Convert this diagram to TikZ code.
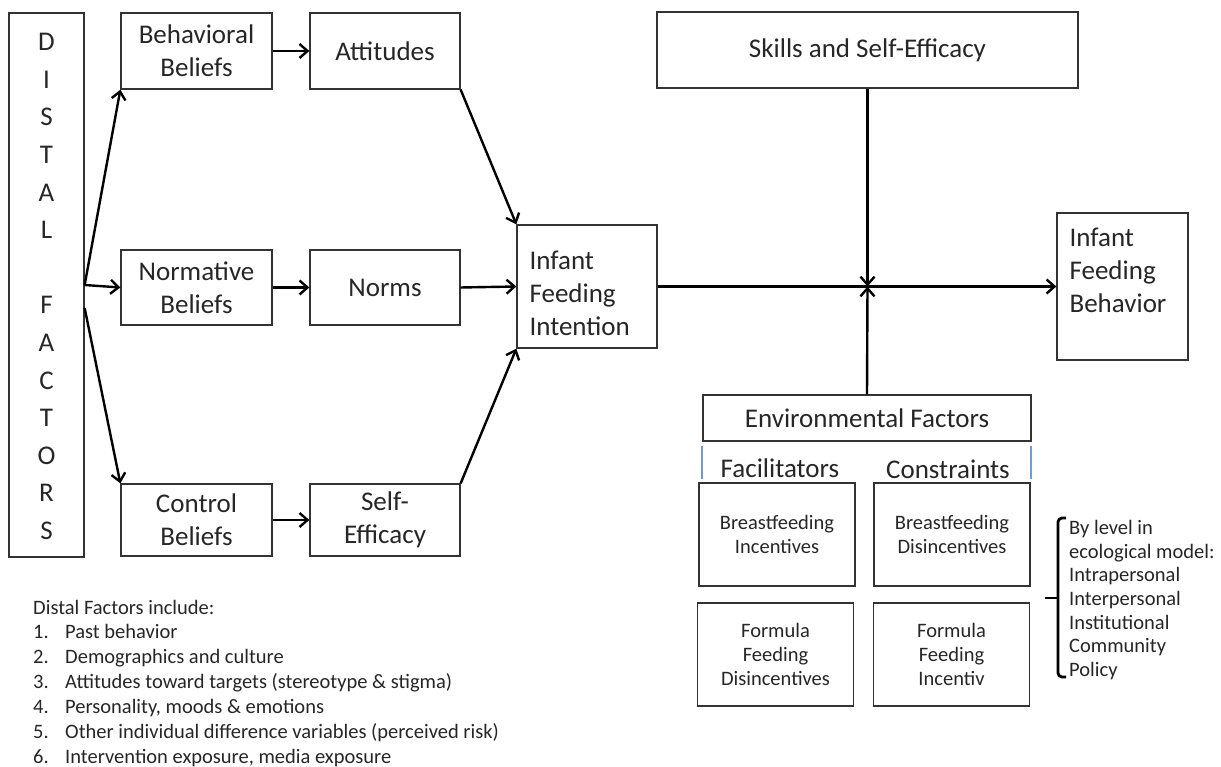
\documentclass[tikz,border=0pt]{standalone}
\usepackage{fontspec}
\setmainfont{Carlito}
\usetikzlibrary{arrows.meta, calc, positioning}

\definecolor{tickblue}{RGB}{115,155,205}

\tikzset{
  box/.style={draw=black!80, line width=1.3pt, inner sep=0pt, align=center,
    text=black!85, font=\fontsize{27}{33}\selectfont},
  smallbox/.style={box, minimum width=156, minimum height=103,
    font=\fontsize{20.5}{24}\selectfont},
  arr/.style={-{Straight Barb[length=8pt,width=14pt]}, line width=2.4pt},
  lbl/.style={inner sep=0pt, text=black!85, font=\fontsize{27}{33}\selectfont},
  note/.style={inner sep=0pt, text=black!85, font=\fontsize{20.5}{23.7}\selectfont},
}

\begin{document}
\begin{tikzpicture}[x=1pt, y=-1pt]
    \useasboundingbox (0,0) rectangle (1221,767);

    % distal factors column
    \node[box, minimum width=75, minimum height=544] (distal) at (46.5,285) {};
    \foreach \ltr/\row in {D/0,I/1,S/2,T/3,A/4,L/5,F/7,A/8,C/9,T/10,O/11,R/12,S/13}
        \node[lbl] (ltr\row) at (46.5, 42+37.6*\row) {\ltr};

    % beliefs and their outcomes
    \node[box, minimum width=151, minimum height=76] (bb) at (196.5,51) {Behavioral\\Beliefs};
    \node[box, minimum width=150, minimum height=76] (att) at (385,51) {Attitudes};
    \node[box, minimum width=151, minimum height=75] (nb) at (196.5,287.5) {Normative\\Beliefs};
    \node[box, minimum width=150, minimum height=75] (norms) at (385,287.5) {Norms};
    \node[box, minimum width=151, minimum height=72] (cb) at (196.5,520) {Control\\Beliefs};
    \node[box, minimum width=150, minimum height=72] (se) at (385,520) {Self-\\Efficacy};

    % intention and behavior
    \node[box, minimum width=140, minimum height=123] (ifi) at (587,286.5) {};
    \node[lbl, align=left, anchor=north west] (ifitext) at ($(ifi.north west)+(13,26)$) {Infant\\Feeding\\Intention};
    \node[box, minimum width=131, minimum height=147] (ifb) at (1122.5,286.5) {};
    \node[lbl, align=left, anchor=north west] (ifbtext) at ($(ifb.north west)+(13,15)$) {Infant\\Feeding\\Behavior};
    \node[box, minimum width=421, minimum height=76] (skills) at (867.5,50) {Skills and Self-Efficacy};

    % environment
    \node[box, minimum width=328, minimum height=46] (env) at (867,418) {Environmental Factors};
    \draw[tickblue, line width=2.2pt] ($(env.south west)+(0,4)$) -- ++(0,33);
    \draw[tickblue, line width=2.2pt] ($(env.south east)+(-1,4)$) -- ++(0,33);
    \node[lbl, anchor=base] (facil) at (780,477) {Facilitators};
    \node[lbl, anchor=base] (constr) at (948,478) {Constraints};
    \node[smallbox] (bfi) at (777,534.5) {Breastfeeding\\Incentives};
    \node[smallbox] (bfd) at (952,534.5) {Breastfeeding\\Disincentives};
    \node[smallbox] (ffd) at (775.5,654.5) {Formula\\Feeding\\Disincentives};
    \node[smallbox] (ffi) at (951.5,654.5) {Formula\\Feeding\\Incentiv};

    % ecological levels
    \draw[line width=2.8pt, rounded corners=4pt] (1066,518) -- (1058,518) -- (1058,677) -- (1066,677);
    \draw[line width=2.8pt] (1058,598) -- (1045,598);
    \node[note, align=left, anchor=north west] (levels) at (1069,520)
        {By level in\\ecological model:\\Intrapersonal\\Interpersonal\\Institutional\\Community\\Policy};

    % connectors
    \coordinate (fanlow) at ($(distal.east)+(0,23)$);
    \coordinate (jct) at (skills.south |- ifi.east);
    \draw[arr] (distal.east) -- (bb.south west);
    \draw[arr] (distal.east) -- (nb.west);
    \draw[arr] (fanlow) -- (cb.north west);
    \draw[arr] (bb.east) -- (att.west);
    \draw[arr] (nb.east) -- (norms.west);
    \draw[arr] (cb.east) -- (se.west);
    \draw[arr] (att.south east) -- (ifi.north west);
    \draw[arr] (norms.east) -- (ifi.west);
    \draw[arr] (se.north east) -- (ifi.south west);
    \draw[arr] (ifi.east) -- (ifb.west);
    \draw[arr] (skills.south) -- (jct);
    \draw[arr] (env.north) -- (jct);

    % list of distal factors
    \node[note, anchor=base west] (incl) at (33,614) {Distal Factors include:};
    \foreach \entry [count=\i] in {Past behavior, Demographics and culture,
        {Attitudes toward targets (stereotype \& stigma)}, {Personality, moods \& emotions},
        {Other individual difference variables (perceived risk)}, {Intervention exposure, media exposure}} {
        \node[note, anchor=base west] (num\i) at (33, 613+25*\i) {\i.};
        \node[note, anchor=base west] (entry\i) at (65, 613+25*\i) {\entry};
    }
\end{tikzpicture}
\end{document}
